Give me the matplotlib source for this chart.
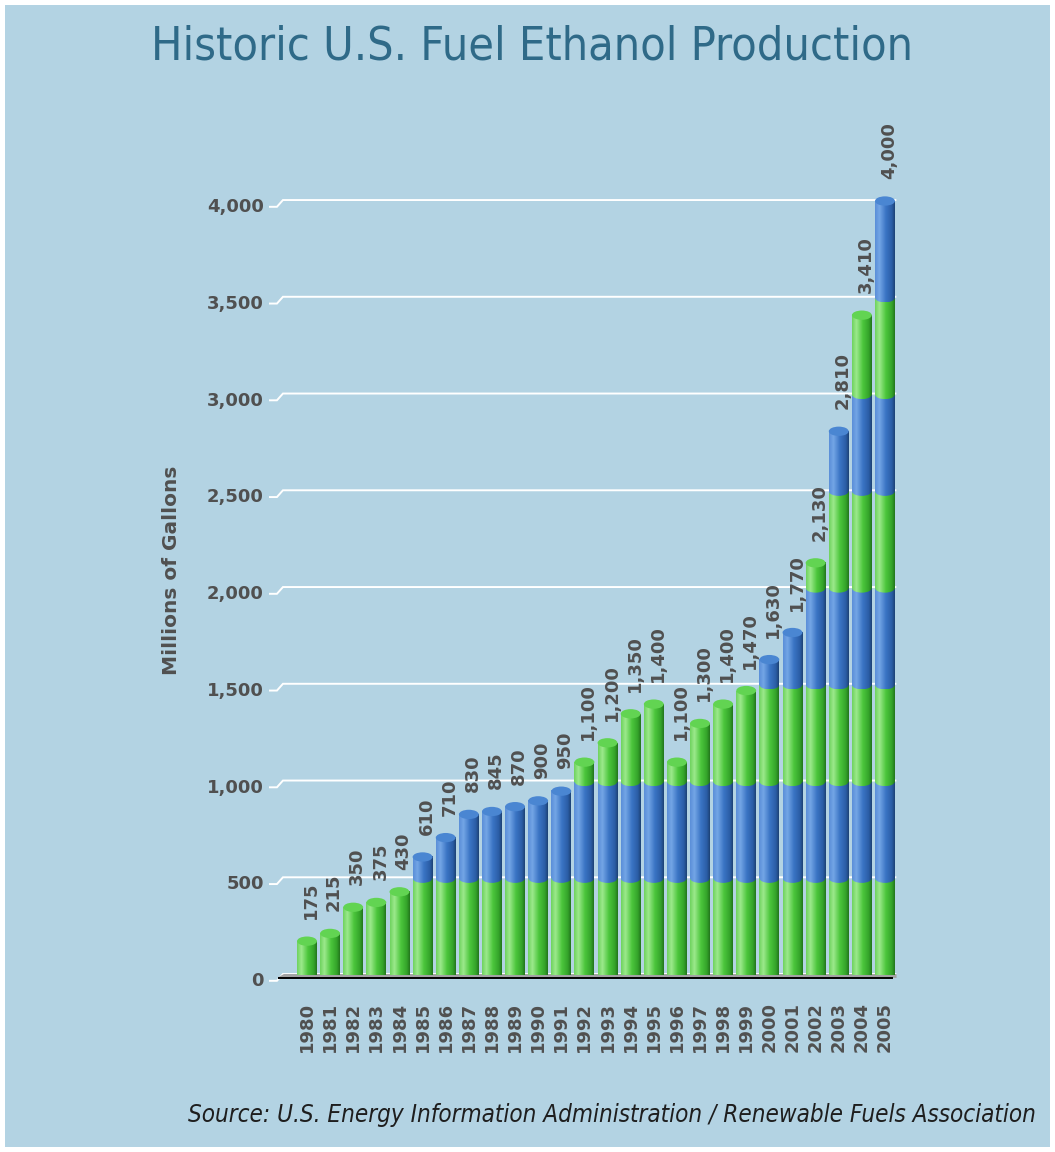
import numpy as np
import matplotlib.pyplot as plt
from matplotlib.colors import LinearSegmentedColormap
from matplotlib.patches import Ellipse, Polygon

years = list(range(1980, 2006))
production = [175, 215, 350, 375, 430, 610, 710, 830, 845, 870, 900, 950,
              1100, 1200, 1350, 1400, 1100, 1300, 1400, 1470, 1630, 1770,
              2130, 2810, 3410, 4000]
yticks = [0, 500, 1000, 1500, 2000, 2500, 3000, 3500, 4000]
BAND = 500  # colour changes every 500 million gallons

BG = '#b3d3e3'
TEXT = '#505050'
BAR_W = 0.86
CAP_H = 48  # height of the cylinder ellipses, in data units

green_cm = LinearSegmentedColormap.from_list('cyl_green', [
    (0.0, '#6fd35e'), (0.22, '#9ce98c'), (0.55, '#4cc63c'),
    (0.85, '#34a42a'), (1.0, '#23761d')])
blue_cm = LinearSegmentedColormap.from_list('cyl_blue', [
    (0.0, '#5a8ed8'), (0.22, '#74a6e6'), (0.55, '#3a74c4'),
    (0.85, '#2b5ea6'), (1.0, '#1d4275')])
CAP = {'g': '#62d452', 'b': '#4a86d2'}
GRAD = np.linspace(0, 1, 64).reshape(1, -1)

fig = plt.figure(figsize=(10.55, 11.52), dpi=100, facecolor=BG,
                 edgecolor='white', linewidth=7)

ax = fig.add_axes([278 / 1055, (1152 - 990) / 1152, 622 / 1055, 870 / 1152])
ax.patch.set_alpha(0)
for s in ax.spines.values():
    s.set_visible(False)
ax.set_xticks([])
ax.set_yticks([])

x_lo, x_hi = -1.254, 25.65

# back-wall gridlines with the little 3D kink at the left
for v in yticks:
    ax.plot([-1.6, -1.3, -1.04, 25.45], [v - 30, v - 30, v + 5, v + 5],
            color='white', lw=1.4, zorder=1, clip_on=False,
            solid_joinstyle='miter')
    ax.annotate(f'{v:,}', xy=(x_lo, v), xytext=(-14, -6),
                textcoords='offset pixels', ha='right', va='center',
                fontsize=13, fontweight='bold', color=TEXT)

# floor
ax.add_patch(Polygon([(-1.3, -15), (-1.0, 5), (25.5, 5), (25.5, -15)],
                     closed=True, facecolor='#a3a3a3', edgecolor='none',
                     zorder=1.5))
ax.plot([-1.3, 25.3], [-15, -15], color='black', lw=1.4, zorder=1.6)


def draw_cylinder(x, value):
    x0, x1 = x - BAR_W / 2, x + BAR_W / 2
    n = int(np.ceil(value / BAND))
    for k in range(n):
        y0 = k * BAND
        y1 = min((k + 1) * BAND, value)
        key = 'g' if k % 2 == 0 else 'b'
        cm = green_cm if key == 'g' else blue_cm
        z = 2 + k * 0.01
        ax.imshow(GRAD, cmap=cm, extent=[x0, x1, y0, y1], aspect='auto',
                  interpolation='bilinear', zorder=z)
        if k > 0:
            # curved seam where this band sits on the one below
            seam = Ellipse((x, y0), BAR_W, CAP_H, transform=ax.transData)
            im = ax.imshow(GRAD, cmap=cm, extent=[x0, x1, y0 - CAP_H / 2, y0],
                           aspect='auto', interpolation='bilinear', zorder=z)
            im.set_clip_path(seam)
        if k == n - 1:
            ax.add_patch(Ellipse((x, y1), BAR_W, CAP_H, facecolor=CAP[key],
                                 edgecolor='none', zorder=z + 0.005))


for i, (yr, val) in enumerate(zip(years, production)):
    draw_cylinder(i, val)
    ax.annotate(f'{val:,}', xy=(i, val), xytext=(4, 22),
                textcoords='offset pixels', ha='center', va='bottom',
                rotation=90, fontsize=13, fontweight='bold', color=TEXT,
                zorder=5)
    ax.annotate(str(yr), xy=(i, 0), xytext=(0, -27),
                textcoords='offset pixels', ha='center', va='top',
                rotation=90, fontsize=13, fontweight='bold', color=TEXT)

ax.set_xlim(x_lo, x_hi)
ax.set_ylim(-77.5, 4418.6)

ax.text(-5.84, 2090, 'Millions of Gallons', rotation=90, ha='center',
        va='center', fontsize=14.5, fontweight='bold', color=TEXT)

fig.text(0.504, 0.959, 'Historic U.S. Fuel Ethanol Production',
         ha='center', va='center', fontsize=33.5, fontstretch='condensed',
         color='#2f6a88')
fig.text(0.982, 0.032,
         'Source: U.S. Energy Information Administration / Renewable Fuels Association',
         ha='right', va='center', fontsize=17.4, fontstyle='italic',
         fontstretch='condensed', color='#1e1e1e')

fig.savefig('out.png', dpi=100, facecolor=BG, edgecolor='white')
